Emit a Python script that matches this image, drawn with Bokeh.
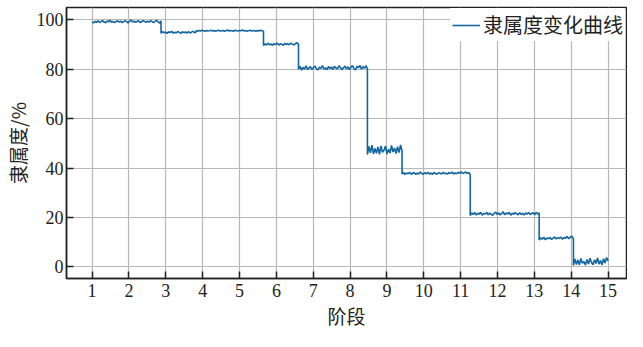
from bokeh.plotting import figure
from bokeh.models import Range1d, FixedTicker, Legend, LegendItem
from bokeh.embed import file_html
from bokeh.resources import INLINE
import numpy as np

# stage boundaries (x positions where the level changes)
bounds = [1.0, 2.87, 3.82, 5.65, 6.6, 8.47, 9.41, 11.26, 13.13, 14.06, 15.0]

s1 = [99.2, 98.8, 99.4, 99.0, 99.6, 98.9, 99.3, 99.7, 99.1, 98.8, 99.5, 99.2, 99.8, 99.0, 99.4, 98.9,
      99.3, 99.6, 99.1, 99.5, 98.9, 99.2, 99.7, 99.3, 98.8, 99.4, 99.9, 99.1, 99.5, 99.0, 99.3, 99.6,
      98.9, 99.2, 99.7, 99.4, 99.0, 99.5, 99.1, 99.6, 99.3, 98.9, 99.4, 99.8, 99.2, 98.7, 99.5]
s2 = [94.6, 95.3, 94.7, 95.1, 94.5, 95.2, 94.8, 95.4, 94.6, 95.0, 94.7, 95.3, 94.9, 94.5, 95.2, 94.8,
      95.1, 94.6, 95.3, 94.7, 95.0, 95.4, 94.8, 95.1]
s3 = [95.6, 95.4, 95.7, 95.5, 95.8, 95.6, 95.4, 95.7, 95.5, 95.6, 95.8, 95.5, 95.7, 95.4, 95.6, 95.8,
      95.5, 95.6, 95.7, 95.4, 95.6, 95.9, 95.5, 95.7, 95.6, 95.4, 95.8, 95.6, 95.5, 95.7, 95.6, 95.9,
      95.5, 95.7, 95.4, 95.6, 95.8, 95.5, 95.7, 95.6, 95.4, 95.7, 95.5, 95.8, 95.6, 95.5]
s4 = [89.6, 90.3, 89.8, 90.5, 89.9, 90.2, 89.7, 90.4, 90.0, 90.6, 89.8, 90.3, 90.1, 89.7, 90.5, 90.0,
      90.3, 89.9, 90.6, 90.2, 89.8, 90.4, 90.7, 90.1]
s5 = [80.0, 81.2, 79.6, 80.8, 80.1, 81.4, 79.8, 80.6, 81.0, 79.9, 80.7, 81.3, 80.2, 79.7, 80.9, 80.4,
      81.5, 80.0, 80.6, 79.8, 81.1, 80.3, 80.9, 79.9, 81.2, 80.5, 80.1, 81.4, 80.7, 79.8, 80.6, 81.3,
      80.2, 81.0, 79.9, 80.8, 81.5, 80.3, 79.7, 81.2, 80.6, 81.6, 80.0, 81.1, 80.4, 81.5, 80.2]
s6 = [45.5, 48.8, 46.2, 49.3, 45.8, 47.9, 46.0, 48.6, 45.6, 49.0, 46.4, 47.2, 48.9, 45.7, 47.6, 46.1,
      49.2, 46.5, 48.1, 45.9, 48.7, 46.3, 49.4, 46.8]
s7 = [37.6, 38.2, 37.4, 38.0, 37.7, 38.3, 37.5, 37.9, 38.2, 37.4, 38.0, 37.6, 38.4, 37.8, 37.5, 38.1,
      37.7, 38.3, 37.6, 38.0, 37.4, 38.2, 37.8, 37.5, 38.1, 37.9, 37.6, 38.3, 37.7, 38.0, 37.5, 38.2,
      37.8, 38.4, 37.6, 38.0, 37.7, 38.3, 37.9, 38.5, 37.8, 38.1, 38.4, 37.9, 38.2, 37.3]
s8 = [20.8, 21.9, 21.2, 22.0, 21.0, 21.7, 21.3, 22.1, 20.9, 21.6, 21.4, 22.0, 21.1, 21.8, 21.3, 20.9,
      21.7, 22.2, 21.2, 21.9, 21.0, 21.6, 22.3, 21.1, 21.8, 21.4, 22.1, 20.9, 21.7, 21.3, 22.0, 21.5,
      21.1, 21.9, 21.2, 21.7, 21.0, 21.8, 21.4, 22.0, 21.2, 21.6, 21.9, 21.1, 22.1, 21.4, 21.8]
s9 = [10.9, 11.8, 11.2, 12.0, 11.0, 11.7, 11.4, 11.9, 11.1, 11.6, 12.1, 11.3, 11.8, 11.5, 12.0, 11.2,
      11.9, 11.6, 12.3, 11.4, 12.1, 12.4, 11.3]
s10 = [0.6, 3.2, 1.0, 2.8, 0.8, 3.4, 1.5, 2.2, 0.7, 3.0, 1.2, 3.5, 1.8, 0.9, 2.9, 1.4, 3.6, 1.1, 2.6,
       0.8, 3.3, 1.6, 3.8, 2.4]

stages = [s1, s2, s3, s4, s5, s6, s7, s8, s9, s10]
x_ticks = list(range(1, 16))
y_ticks = [0, 20, 40, 60, 80, 100]

xs, ys = [], []
for i, s in enumerate(stages):
    xs.extend(np.linspace(bounds[i], bounds[i + 1], len(s)).tolist())
    ys.extend(s)

NUM_FONT = "Liberation Serif"
CJK_FONT = "Noto Sans CJK SC"

p = figure(output_backend="svg", toolbar_location=None,
           width=627, height=331,
           x_range=Range1d(0.305, 15.5), y_range=Range1d(-4.7, 105.0),
           min_border_left=65, min_border_top=7, min_border_right=1, min_border_bottom=50)
p.border_fill_color = "white"

line_color = "#14669f"
r = p.line(xs, ys, line_color=line_color, line_width=1.6)

for ax in (p.xaxis[0], p.yaxis[0]):
    ax.axis_line_color = "#222222"
    ax.axis_line_width = 1.5
    ax.major_tick_line_color = "#222222"
    ax.major_tick_line_width = 1.5
    ax.major_tick_in = 7
    ax.major_tick_out = 0
    ax.minor_tick_line_color = None
    ax.major_label_text_font = NUM_FONT
    ax.major_label_text_font_size = "18px"
    ax.major_label_text_color = "#222222"
    ax.axis_label_text_font = CJK_FONT
    ax.axis_label_text_font_size = "19px"
    ax.axis_label_text_font_style = "normal"
    ax.axis_label_text_color = "#222222"

p.xaxis.ticker = FixedTicker(ticks=x_ticks)
p.yaxis.ticker = FixedTicker(ticks=y_ticks)
p.xaxis.axis_label = "阶段"
p.yaxis.axis_label = "隶属度/%"
p.xaxis.major_label_standoff = 5
p.yaxis.major_label_standoff = 3
p.xaxis.axis_label_standoff = 2
p.yaxis.axis_label_standoff = 3

p.xgrid.ticker = FixedTicker(ticks=x_ticks)
p.ygrid.ticker = FixedTicker(ticks=y_ticks)
p.grid.grid_line_color = "#b8b8b8"
p.grid.grid_line_width = 1.2

p.outline_line_color = "#222222"
p.outline_line_width = 1.5
p.background_fill_color = "white"

legend = Legend(items=[LegendItem(label="隶属度变化曲线", renderers=[r])],
                location="top_right")
legend.label_text_font = CJK_FONT
legend.label_text_font_size = "20px"
legend.label_text_color = "#222222"
legend.border_line_alpha = 0
legend.background_fill_alpha = 1
legend.margin = 1
legend.padding = 2
legend.glyph_width = 28
legend.label_standoff = 3
p.add_layout(legend)

open("out.html", "w").write(file_html(p, INLINE))
